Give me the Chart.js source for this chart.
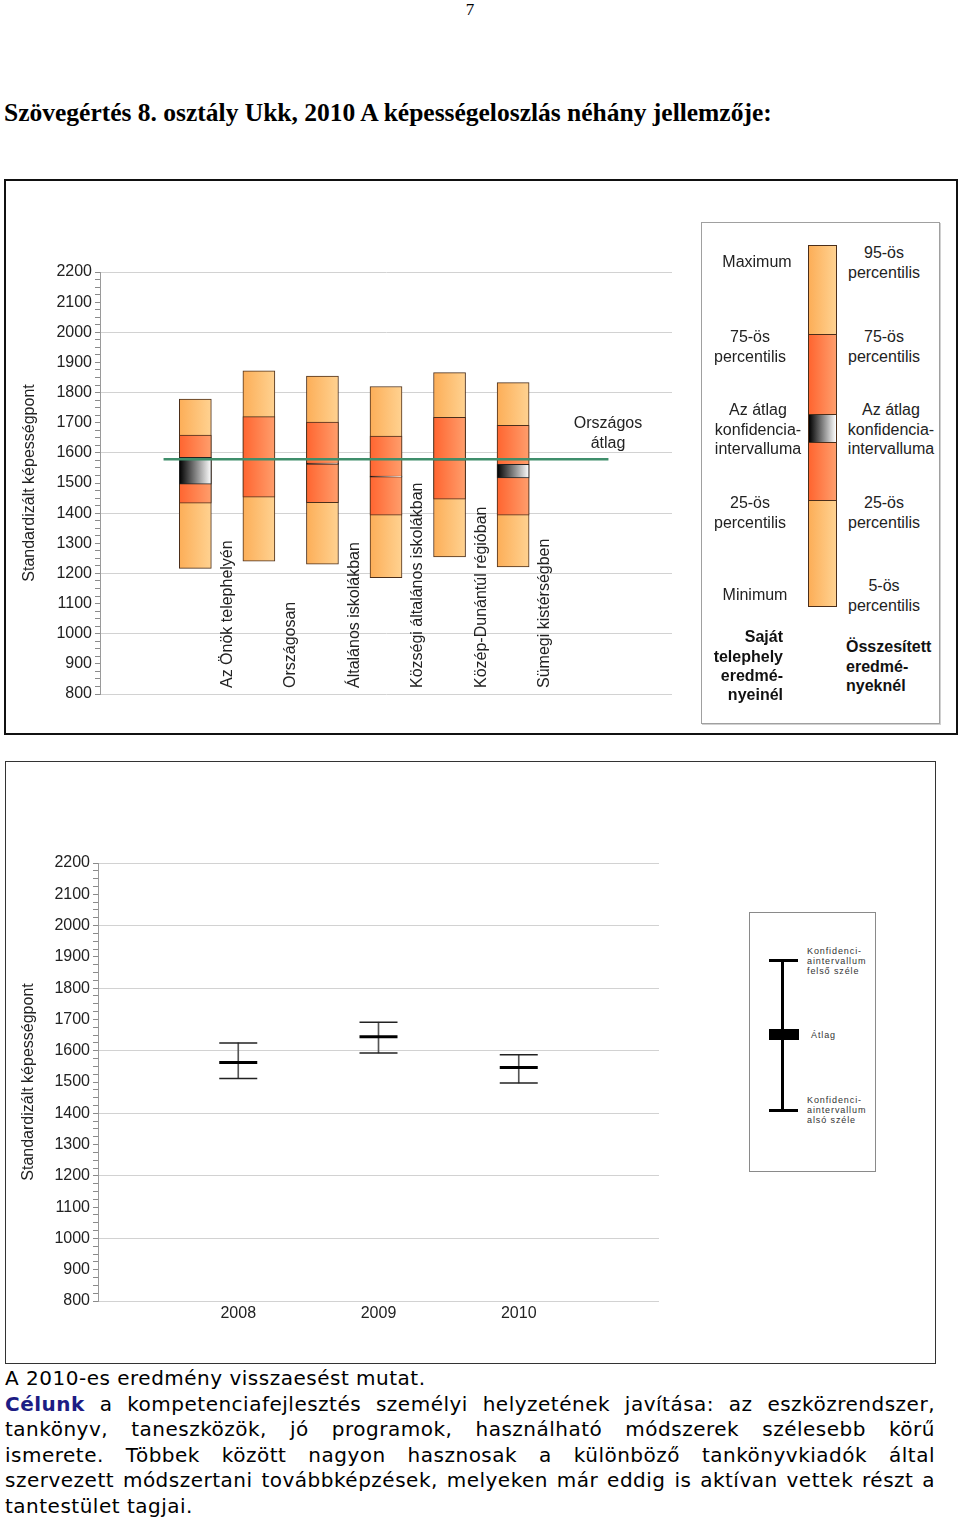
<!DOCTYPE html>
<html lang="hu">
<head>
<meta charset="utf-8">
<script src="https://cdn.jsdelivr.net/npm/chart.js@4.4.1/dist/chart.umd.min.js"></script>
<style>
  html, body { margin: 0; padding: 0; background: #fff; }
  body { width: 960px; height: 1518px; position: relative; overflow: hidden; font-family: "Liberation Sans", Arial, sans-serif; color: #222; }
  .abs { position: absolute; }
  .frame { position: absolute; box-sizing: border-box; }
  .lg { position: absolute; font-size: 16px; line-height: 19.3px; white-space: nowrap; color: #222; }
  .seg { position: absolute; left: 0; width: 29px; box-sizing: border-box; border: 1px solid #4b2e1a; }
  .small { position: absolute; font-size: 9px; letter-spacing: 0.9px; line-height: 10.2px; color: #333; white-space: nowrap; }
  .para { position: absolute; left: 5px; width: 930px; font-family: "DejaVu Sans", Verdana, sans-serif; font-size: 20px; letter-spacing: 0.5px; line-height: 25.6px; color: #000; }
  .para div { text-align: justify; text-align-last: justify; }
  .para div.last { text-align: left; text-align-last: left; }
</style>
</head>
<body>

<div class="abs" style="left:460px; top:0px; width:20px; text-align:center; font-family:'Liberation Serif', serif; font-size:17px; line-height:20px; color:#000;">7</div>

<div class="abs" style="left:4px; top:100px; font-family:'Liberation Serif', serif; font-weight:bold; font-size:25.5px; line-height:25px; color:#000; white-space:nowrap;">Szövegértés 8. osztály Ukk, 2010 A képességeloszlás néhány jellemzője:</div>

<!-- top figure -->
<div class="frame" style="left:4px; top:179px; width:954px; height:556px; border:2px solid #111;"></div>
<div class="abs" style="left:6px; top:181px; width:694px; height:551px;"><canvas id="topChart" width="694" height="551"></canvas></div>

<div class="abs" style="left:568px; top:413px; width:80px; text-align:center; font-size:16px; line-height:20px; color:#222;">Országos<br>átlag</div>

<!-- top legend -->
<div class="frame" style="left:701px; top:222px; width:239px; height:502px; border:1px solid #a0a0a0; box-shadow:1px 1px 0 #d0d0d0;"></div>
<div class="abs" style="left:808px; top:245px; width:29px; height:362px;">
  <div class="seg" style="top:0px; height:90px; background:linear-gradient(to right,#fcae58,#ffd291);"></div>
  <div class="seg" style="top:89px; height:81px; background:linear-gradient(to right,#ff6530,#ff9e6c);"></div>
  <div class="seg" style="top:169px; height:29px; background:linear-gradient(to right,#000,#fff);"></div>
  <div class="seg" style="top:197px; height:59px; background:linear-gradient(to right,#ff6530,#ff9e6c);"></div>
  <div class="seg" style="top:255px; height:107px; background:linear-gradient(to right,#fcae58,#ffd291);"></div>
</div>
<div id="legendTexts"></div>

<!-- bottom figure -->
<div class="frame" style="left:5px; top:761px; width:931px; height:603px; border:1.5px solid #333;"></div>
<div class="abs" style="left:7px; top:763px; width:740px; height:598px;"><canvas id="bottomChart" width="740" height="598"></canvas></div>

<!-- bottom legend -->
<div class="frame" style="left:749px; top:912px; width:127px; height:260px; border:1px solid #8a8a8a;"></div>
<div class="abs" style="left:781px; top:961px; width:3px; height:151px; background:#000;"></div>
<div class="abs" style="left:769px; top:959px; width:29px; height:3px; background:#000;"></div>
<div class="abs" style="left:769px; top:1109px; width:29px; height:3px; background:#000;"></div>
<div class="abs" style="left:769px; top:1029px; width:30px; height:11px; background:#000;"></div>
<div class="small" style="left:807px; top:946px;">Konfidenci-<br>aintervallum<br>felső széle</div>
<div class="small" style="left:811px; top:1030px;">Átlag</div>
<div class="small" style="left:807px; top:1095px;">Konfidenci-<br>aintervallum<br>alsó széle</div>

<!-- text -->
<div class="para" style="top:1366px;">
  <div class="last">A 2010-es eredmény visszaesést mutat.</div>
  <div><b style="color:#1c1c84;">Célunk</b> a kompetenciafejlesztés személyi helyzetének javítása: az eszközrendszer,</div>
  <div>tankönyv, taneszközök, jó programok, használható módszerek szélesebb körű</div>
  <div>ismerete. Többek között nagyon hasznosak a különböző tankönyvkiadók által</div>
  <div>szervezett módszertani továbbképzések, melyeken már eddig is aktívan vettek részt a</div>
  <div class="last">tantestület tagjai.</div>
</div>

<script>
// ---------- data: top chart ----------
const categories = ['Az Önök telephelyén', 'Országosan', 'Általános iskolákban', 'Községi általános iskolákban', 'Közép-Dunántúl régióban', 'Sümegi kistérségben'];
const lowEnd  = [1217, 1241, 1231, 1186, 1255, 1222];   // minimum / 5th percentile
const p25     = [1433, 1453, 1435, 1393, 1446, 1393];
const p75     = [1659, 1720, 1702, 1656, 1718, 1691];
const highEnd = [1778, 1872, 1855, 1820, 1866, 1833];   // maximum / 95th percentile
const ciLow   = [1496, 1577, 1562, 1519, 1576, 1517];
const ciHigh  = [1585, 1582, 1566, 1523, 1582, 1562];
const nationalAvg = 1579;

// ---------- data: bottom chart ----------
const years = ['2008', '2009', '2010'];
const meanByYear   = [1562, 1645, 1546];
const ciLowByYear  = [1511, 1593, 1497];
const ciHighByYear = [1625, 1691, 1587];

// ---------- axis ticks ----------
const yTickLabels = [800, 900, 1000, 1100, 1200, 1300, 1400, 1500, 1600, 1700, 1800, 1900, 2000, 2100, 2200];
const yMinorStep = 25;
const yGridStep = 200;
const axisTitle = 'Standardizált képességpont';

Chart.defaults.font.family = '"Liberation Sans", Arial, sans-serif';
Chart.defaults.color = '#222';

function yAxis(width) {
  return {
    type: 'linear', min: yTickLabels[0], max: yTickLabels[yTickLabels.length - 1],
    afterBuildTicks: s => {
      const t = [];
      for (let v = yTickLabels[0]; v <= yTickLabels[yTickLabels.length - 1]; v += yMinorStep) t.push({ value: v });
      s.ticks = t;
    },
    afterFit: s => { s.width = width; },
    ticks: { autoSkip: false, padding: 3, color: '#222', font: { size: 16 },
      callback: v => (yTickLabels.includes(v) ? String(v) : '') },
    grid: { color: c => (c.tick && c.tick.value % yGridStep === 0) ? '#d2d2d2' : 'rgba(0,0,0,0)',
      tickColor: '#8a8a8a', tickLength: 5, lineWidth: 1 },
    border: { display: true, color: '#9a9a9a' },
    title: { display: true, text: axisTitle, color: '#222', font: { size: 16 } }
  };
}

const barW = 32;
function hGrad(c0, c1) {
  return function (ctx) {
    if (ctx.type !== 'data' || !ctx.raw) return c0;
    const xs = ctx.chart.scales.x;
    const cx = xs.getPixelForValue(ctx.raw.x);
    if (!isFinite(cx)) return c0;
    const g = ctx.chart.ctx.createLinearGradient(cx - barW / 2, 0, cx + barW / 2, 0);
    g.addColorStop(0, c0); g.addColorStop(1, c1);
    return g;
  };
}

const pos = categories.map((_, i) => i + 1);
const barCommon = { type: 'bar', barThickness: barW, grouped: false, borderWidth: 1, borderColor: '#4b2e1a', borderSkipped: false };

const catLabelPlugin = {
  id: 'catLabels',
  afterDatasetsDraw(chart) {
    const { ctx, scales: { x, y } } = chart;
    const off = (x.getPixelForValue(1) - x.getPixelForValue(0)) / 2;
    const yb = y.getPixelForValue(yTickLabels[0]) - 6;
    ctx.save();
    ctx.font = '16px "Liberation Sans", Arial, sans-serif';
    ctx.fillStyle = '#222';
    ctx.textAlign = 'left';
    ctx.textBaseline = 'middle';
    categories.forEach((c, i) => {
      ctx.save();
      ctx.translate(x.getPixelForValue(pos[i]) + off, yb);
      ctx.rotate(-Math.PI / 2);
      ctx.fillText(c, 0, 0);
      ctx.restore();
    });
    ctx.restore();
  }
};

new Chart(document.getElementById('topChart'), {
  type: 'bar',
  data: {
    datasets: [
      Object.assign({}, barCommon, { label: 'range', order: 3,
        data: pos.map((p, i) => ({ x: p, y: [lowEnd[i], highEnd[i]] })),
        backgroundColor: hGrad('#fcae58', '#ffd291') }),
      Object.assign({}, barCommon, { label: 'iqr', order: 2,
        data: pos.map((p, i) => ({ x: p, y: [p25[i], p75[i]] })),
        backgroundColor: hGrad('#ff6530', '#ff9e6c') }),
      Object.assign({}, barCommon, { label: 'ci', order: 1, borderColor: '#222',
        data: pos.map((p, i) => ({ x: p, y: [ciLow[i], ciHigh[i]] })),
        backgroundColor: hGrad('#000000', '#ffffff') }),
      { type: 'line', label: 'Országos átlag', order: 0,
        data: [{ x: 0.5, y: nationalAvg }, { x: 7.5, y: nationalAvg }],
        borderColor: '#3f8e6b', borderWidth: 2.5, pointRadius: 0, fill: false }
    ]
  },
  options: {
    responsive: false, animation: false,
    layout: { padding: { left: 10, right: 28, top: 91, bottom: 38 } },
    plugins: { legend: { display: false }, tooltip: { enabled: false } },
    scales: {
      x: { type: 'linear', min: -0.5, max: 8.5, offset: false, display: false, grid: { offset: false } },
      y: yAxis(84)
    }
  },
  plugins: [catLabelPlugin]
});

new Chart(document.getElementById('bottomChart'), {
  type: 'bar',
  data: {
    datasets: [
      { type: 'bar', label: 'ci', order: 3, grouped: false, barThickness: 1, borderWidth: 0, backgroundColor: '#555',
        data: years.map((_, i) => ({ x: i + 1, y: [ciLowByYear[i], ciHighByYear[i]] })) },
      { type: 'line', label: 'felső', order: 2, showLine: false, pointStyle: 'line', pointRadius: 19, pointHoverRadius: 19,
        pointBorderWidth: 1.5, pointBorderColor: '#222', borderColor: '#222',
        data: years.map((_, i) => ({ x: i + 1, y: ciHighByYear[i] })) },
      { type: 'line', label: 'alsó', order: 2, showLine: false, pointStyle: 'line', pointRadius: 19, pointHoverRadius: 19,
        pointBorderWidth: 1.5, pointBorderColor: '#222', borderColor: '#222',
        data: years.map((_, i) => ({ x: i + 1, y: ciLowByYear[i] })) },
      { type: 'line', label: 'Átlag', order: 1, showLine: false, pointStyle: 'line', pointRadius: 19, pointHoverRadius: 19,
        pointBorderWidth: 3, pointBorderColor: '#000', borderColor: '#000',
        data: years.map((_, i) => ({ x: i + 1, y: meanByYear[i] })) }
    ]
  },
  options: {
    responsive: false, animation: false,
    layout: { padding: { left: 8, right: 88, top: 100, bottom: 35 } },
    plugins: { legend: { display: false }, tooltip: { enabled: false } },
    scales: {
      x: { type: 'linear', min: 0, max: years.length + 1, offset: false,
        afterBuildTicks: s => { s.ticks = years.map((_, i) => ({ value: i + 1 })); },
        afterFit: s => { s.height = 25; },
        ticks: { autoSkip: false, maxRotation: 0, minRotation: 0, padding: 3, color: '#222', font: { size: 16 },
          callback: v => years[v - 1] },
        grid: { display: false, drawTicks: false, offset: false },
        border: { display: false } },
      y: yAxis(83)
    }
  }
});

// ---------- legend texts (top chart) ----------
const legendBlocks = [
  { cx: 757, y: 262, lines: ['Maximum'] },
  { cx: 750, y: 337, lines: ['75-ös', 'percentilis'] },
  { cx: 758, y: 410, lines: ['Az átlag', 'konfidencia-', 'intervalluma'] },
  { cx: 750, y: 503, lines: ['25-ös', 'percentilis'] },
  { cx: 755, y: 595, lines: ['Minimum'] },
  { rx: 783, y: 637, lines: ['Saját', 'telephely', 'eredmé-', 'nyeinél'], bold: true },
  { cx: 884, y: 253, lines: ['95-ös', 'percentilis'] },
  { cx: 884, y: 337, lines: ['75-ös', 'percentilis'] },
  { cx: 891, y: 410, lines: ['Az átlag', 'konfidencia-', 'intervalluma'] },
  { cx: 884, y: 503, lines: ['25-ös', 'percentilis'] },
  { cx: 884, y: 586, lines: ['5-ös', 'percentilis'] },
  { lx: 846, y: 647, lines: ['Összesített', 'eredmé-', 'nyeknél'], bold: true }
];
const holder = document.getElementById('legendTexts');
const LH = 19.3;
legendBlocks.forEach(b => {
  const d = document.createElement('div');
  d.className = 'lg';
  d.innerHTML = b.lines.join('<br>');
  d.style.top = (b.y - LH / 2) + 'px';
  if (b.bold) { d.style.fontWeight = 'bold'; d.style.color = '#111'; }
  if (b.cx !== undefined) { d.style.left = (b.cx - 60) + 'px'; d.style.width = '120px'; d.style.textAlign = 'center'; }
  else if (b.rx !== undefined) { d.style.left = (b.rx - 120) + 'px'; d.style.width = '120px'; d.style.textAlign = 'right'; }
  else { d.style.left = b.lx + 'px'; d.style.textAlign = 'left'; }
  holder.appendChild(d);
});
</script>
</body>
</html>
